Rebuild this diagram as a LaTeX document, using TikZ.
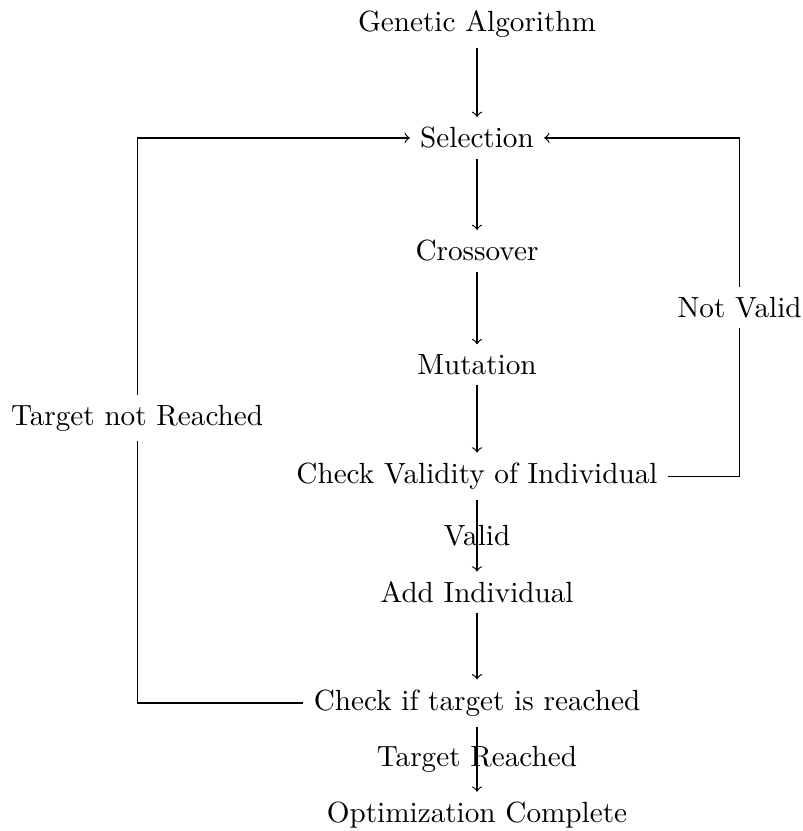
\documentclass[tikz,border=0pt]{standalone}
\usetikzlibrary{calc}

\begin{document}
\begin{tikzpicture}

\useasboundingbox (0,0) rectangle (9.66,-10.0);

\node[name=ga] at (5.74,-0.29) {Genetic Algorithm};
\node[name=sel] at (5.74,-1.66) {Selection};
\node[name=cro] at (5.74,-3.02) {Crossover};
\node[name=mut] at (5.74,-4.39) {Mutation};
\node[name=val] at (5.74,-5.73) {Check Validity of Individual};
\node[name=add] at (5.74,-7.13) {Add Individual};
\node[name=chk] at (5.74,-8.46) {Check if target is reached};
\node[name=opt] at (5.74,-9.81) {Optimization Complete};

\node[name=nv] at (8.90,-3.70) {Not Valid};
\node[name=tnr] at (1.65,-5.03) {Target not Reached};

\draw[->] (ga) -- (sel);
\draw[->] (sel) -- (cro);
\draw[->] (cro) -- (mut);
\draw[->] (mut) -- (val);
\draw[->] (val) -- node {Valid} (add);
\draw[->] (add) -- (chk);
\draw[->] (chk) -- node {Target Reached} (opt);

\draw (val.east) -| (nv);
\draw[->] (nv) |- (sel.east);
\draw (chk.west) -| (tnr);
\draw[->] (tnr) |- (sel.west);
\end{tikzpicture}
\end{document}
